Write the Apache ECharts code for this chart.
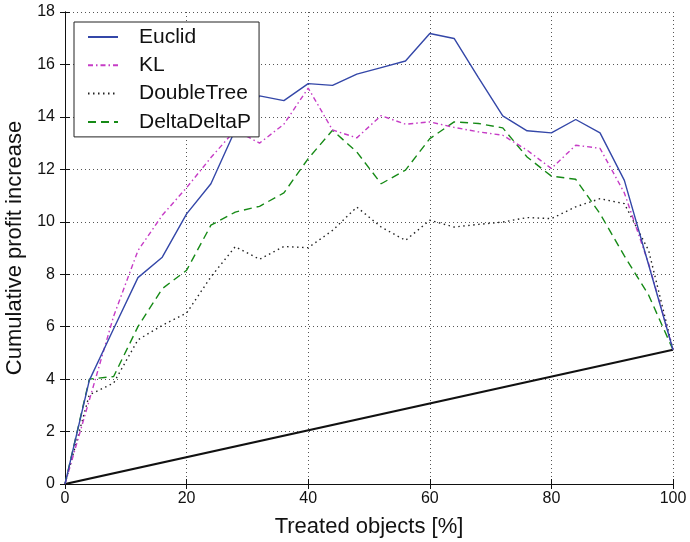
<!DOCTYPE html>
<html>
<head>
<meta charset="utf-8">
<script src="https://cdn.jsdelivr.net/npm/echarts@6/dist/echarts.min.js"></script>
<style>
  html, body { margin: 0; padding: 0; background: #fff; }
  #chart { width: 690px; height: 542px; }
</style>
</head>
<body>
<div id="chart"></div>
<script>
// x positions (treated objects, %)
var treated = [0, 4, 8, 12, 16, 20, 24, 28, 32, 36, 40, 44, 48, 52, 56, 60, 64, 68, 72, 76, 80, 84, 88, 92, 96, 100];

// cumulative profit increase per method
var euclid = [0, 3.95, 5.92, 7.87, 8.65, 10.3, 11.45, 13.5, 14.8, 14.62, 15.27, 15.2, 15.63, 15.88, 16.13, 17.18, 16.99, 15.5, 14.04, 13.47, 13.39, 13.9, 13.39, 11.58, 8.35, 5.12];
var kl = [0, 3.2, 6.4, 8.9, 10.25, 11.3, 12.45, 13.5, 13.0, 13.72, 15.1, 13.5, 13.2, 14.05, 13.72, 13.81, 13.6, 13.43, 13.3, 12.73, 12.03, 12.92, 12.8, 11.1, 8.4, 5.12];
var doubleTree = [0, 3.4, 3.85, 5.5, 6.05, 6.52, 7.9, 9.05, 8.57, 9.06, 9.01, 9.67, 10.56, 9.8, 9.29, 10.06, 9.8, 9.9, 9.99, 10.16, 10.12, 10.57, 10.88, 10.69, 8.9, 5.12];
var deltaDeltaP = [0, 4.0, 4.1, 6.0, 7.45, 8.15, 9.87, 10.37, 10.59, 11.1, 12.41, 13.49, 12.66, 11.45, 11.97, 13.17, 13.81, 13.75, 13.58, 12.47, 11.74, 11.62, 10.31, 8.7, 7.2, 5.12];

// random targeting baseline (straight line)
var baselineX = [0, 100];
var baselineY = [0, 5.12];

var xTicks = [0, 20, 40, 60, 80, 100];
var yTicks = [0, 2, 4, 6, 8, 10, 12, 14, 16, 18];

function pairs(xs, ys) {
  return xs.map(function (x, i) { return [x, ys[i]]; });
}

var font = 'Liberation Sans, Arial, sans-serif';
var gridLine = { show: true, lineStyle: { color: '#555', type: [1, 3], width: 1 } };

var chart = echarts.init(document.getElementById('chart'), null, { renderer: 'canvas' });

chart.setOption({
  animation: false,
  backgroundColor: '#fff',
  grid: { left: 65, right: 17, top: 12, bottom: 58, containLabel: false, outerBoundsMode: 'none' },
  legend: {
    data: ['Euclid', 'KL', 'DoubleTree', 'DeltaDeltaP'],
    orient: 'vertical',
    left: 74,
    top: 22,
    z: 20,
    padding: [4.5, 8, 4.5, 13],
    itemWidth: 30,
    itemHeight: 20,
    itemGap: 7.3,
    backgroundColor: '#fff',
    borderColor: '#222',
    borderWidth: 1,
    itemStyle: { opacity: 0 },
    textStyle: { fontFamily: font, fontSize: 21, color: '#111', padding: [0, 0, 0, 16] }
  },
  xAxis: [{
    type: 'value', min: 0, max: 100, interval: 20,
    position: 'bottom',
    name: 'Treated objects [%]', nameLocation: 'middle', nameGap: 32,
    nameTextStyle: { fontFamily: font, fontSize: 22, color: '#111' },
    axisLine: { lineStyle: { color: '#111', width: 1 } },
    axisTick: { inside: true, length: 5, lineStyle: { color: '#111' } },
    axisLabel: { fontFamily: font, fontSize: 16, color: '#111', margin: 7 },
    splitLine: gridLine
  }, {
    type: 'value', min: 0, max: 100, interval: 20,
    position: 'top',
    axisLine: { show: true, lineStyle: { color: '#111', width: 1 } },
    axisTick: { inside: true, length: 5, lineStyle: { color: '#111' } },
    axisLabel: { show: false },
    splitLine: { show: false }
  }],
  yAxis: [{
    type: 'value', min: 0, max: 18, interval: 2,
    position: 'left',
    name: 'Cumulative profit increase', nameLocation: 'middle', nameGap: 32,
    nameTextStyle: { fontFamily: font, fontSize: 22, color: '#111' },
    axisLine: { show: true, lineStyle: { color: '#111', width: 1 } },
    axisTick: { show: true, inside: true, length: 5, lineStyle: { color: '#111' } },
    axisLabel: { fontFamily: font, fontSize: 16, color: '#111', margin: 10 },
    splitLine: gridLine
  }, {
    type: 'value', min: 0, max: 18, interval: 2,
    position: 'right',
    axisLine: { show: true, lineStyle: { color: '#111', width: 1 } },
    axisTick: { show: true, inside: true, length: 5, lineStyle: { color: '#111' } },
    axisLabel: { show: false },
    splitLine: { show: false }
  }],
  series: [
    {
      name: 'Baseline', type: 'line', symbol: 'none', z: 1,
      data: pairs(baselineX, baselineY),
      lineStyle: { color: '#111', width: 2.2 }
    },
    {
      name: 'Euclid', type: 'line', symbol: 'none', z: 5,
      data: pairs(treated, euclid),
      itemStyle: { color: '#3447a8' },
      lineStyle: { color: '#3447a8', width: 1.4 }
    },
    {
      name: 'KL', type: 'line', symbol: 'none', z: 4,
      data: pairs(treated, kl),
      itemStyle: { color: '#c63cc6' },
      lineStyle: { color: '#c63cc6', width: 1.4, type: [5, 3, 1.5, 3] }
    },
    {
      name: 'DoubleTree', type: 'line', symbol: 'none', z: 3,
      data: pairs(treated, doubleTree),
      itemStyle: { color: '#222' },
      lineStyle: { color: '#222', width: 1.4, type: [1.5, 3.5] }
    },
    {
      name: 'DeltaDeltaP', type: 'line', symbol: 'none', z: 3,
      data: pairs(treated, deltaDeltaP),
      itemStyle: { color: '#168a16' },
      lineStyle: { color: '#168a16', width: 1.4, type: [8, 5] }
    }
  ]
});
</script>
</body>
</html>
